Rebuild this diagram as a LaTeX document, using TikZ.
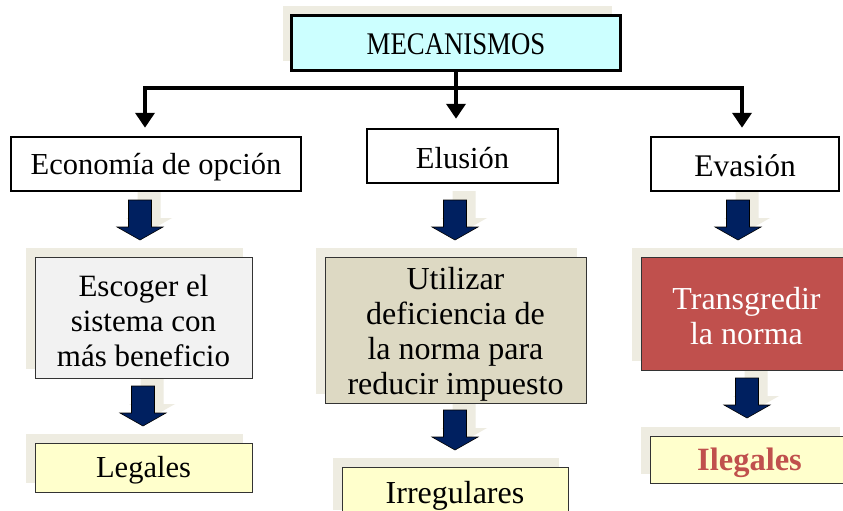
\documentclass[tikz,border=0pt]{standalone}
\usepackage{fontspec}
\setmainfont{Liberation Serif}
\usetikzlibrary{arrows.meta,shadows,calc}
\definecolor{shbeige}{HTML}{EEECE1}
\definecolor{navyf}{HTML}{002060}
\definecolor{cyanf}{HTML}{CCFFFF}
\definecolor{grayf}{HTML}{F2F2F2}
\definecolor{tanf}{HTML}{DDD9C3}
\definecolor{redf}{HTML}{C0504D}
\definecolor{yelf}{HTML}{FFFFCC}
\begin{document}
\begin{tikzpicture}[x=1pt,y=-1pt,
  every node/.style={font=\fontsize{30.5}{35}\selectfont, align=center, inner sep=0pt},
  bshadow/.style={drop shadow={shadow xshift=-9pt, shadow yshift=9pt, fill=shbeige, opacity=1}},
  topbox/.style={draw=black, line width=3.5pt, fill=cyanf, bshadow},
  lvlbox/.style={draw=black, line width=2.5pt, fill=white},
  resbox/.style={draw=black!80, line width=1pt, bshadow},
  txt/.style={},
  bigtxt/.style={font=\fontsize{32}{35}\selectfont},
  conn/.style={line width=4.5pt, line join=miter},
  tipend/.style={-{Triangle[width=19pt,length=15pt]}},
  tipboth/.style={{Triangle[width=19pt,length=15pt]}-{Triangle[width=19pt,length=15pt]}},
  barrow/.pic={
    \fill[shbeige] (-2.5,-9) -- (20.5,-9) -- (20.5,18) -- (32,18) -- (9,31) -- (-14,18) -- (-2.5,18) -- cycle;
    \filldraw[fill=navyf, draw=black, line width=0.6pt] (-11.5,0) -- (11.5,0) -- (11.5,27) -- (23,27) -- (0,40) -- (-23,27) -- (-11.5,27) -- cycle;
  }
]
\useasboundingbox (0,0) rectangle (843,511);
\fill[white] (0,0) rectangle (843,511);

% block arrows (drawn first so boxes cover their shadow tops)
\pic at (140,200) {barrow};
\pic at (455,200) {barrow};
\pic at (738,200) {barrow};
\pic at (143,386) {barrow};
\pic at (455,410) {barrow};
\pic at (747,378) {barrow};

% boxes
\node[topbox, minimum width=329pt, minimum height=55pt] (mec) at (456,43) {};

\node[lvlbox, minimum width=290pt, minimum height=54pt] (econ) at (156,164) {};
\node[lvlbox, minimum width=191pt, minimum height=54pt] (elu) at (462.5,156) {};
\node[lvlbox, minimum width=188pt, minimum height=54pt] (eva) at (745,164) {};

\node[resbox, fill=grayf, minimum width=217pt, minimum height=121pt] (esc) at (143.5,317.5) {};
\node[resbox, fill=tanf, minimum width=261pt, minimum height=146pt] (uti) at (455.5,330) {};
\node[resbox, fill=redf, minimum width=211pt, minimum height=113pt] (tra) at (746.5,313.5) {};

\node[resbox, fill=yelf, minimum width=217pt, minimum height=49pt] (leg) at (143.5,467.5) {};
\node[resbox, fill=yelf, minimum width=226pt, minimum height=52pt] (irr) at (455,493) {};
\node[resbox, fill=yelf, minimum width=199pt, minimum height=47pt] (ile) at (749.5,459.5) {};

% texts
\node[txt, font=\fontsize{31.5}{35}\selectfont\addfontfeatures{FakeStretch=0.85}] (mec-t) at ([yshift=-1pt]mec.center) {MECANISMOS};
\node[txt] (econ-t) at ([yshift=-3pt]econ.center) {Economía de opción};
\node[txt] (elu-t) at ([yshift=-2pt]elu.center) {Elusión};
\node[txt, font=\fontsize{31.5}{35}\selectfont] (eva-t) at ([yshift=-2pt]eva.center) {Evasión};
\node[txt, font=\fontsize{31}{35}\selectfont] (esc-t) at ([yshift=-3pt]esc.center) {Escoger el\\sistema con\\más beneficio};
\node[txt, bigtxt] (uti-t) at ([yshift=-4pt]uti.center) {Utilizar\\deficiencia de\\la norma para\\reducir impuesto};
\node[txt, bigtxt, text=white] (tra-t) at ([yshift=-2.5pt]tra.center) {Transgredir\\la norma};
\node[txt] (leg-t) at ([yshift=-3pt]leg.center) {Legales};
\node[txt, bigtxt] (irr-t) at ([yshift=-3pt]irr.center) {Irregulares};
\node[txt, text=redf, font=\fontsize{32.5}{35}\selectfont\bfseries] (ile-t) at ([yshift=-3.5pt]ile.center) {Ilegales};

% connectors
\coordinate (busL) at (145,88);
\coordinate (busR) at (742,88);
\draw[conn, tipend, shorten >=9pt] (mec.south) -- (mec.south |- elu.north);
\draw[conn, tipboth, shorten <=8pt, shorten >=8pt] (busL |- econ.north) -- (busL) -- (busR) -- (busR |- eva.north);
\end{tikzpicture}
\end{document}
